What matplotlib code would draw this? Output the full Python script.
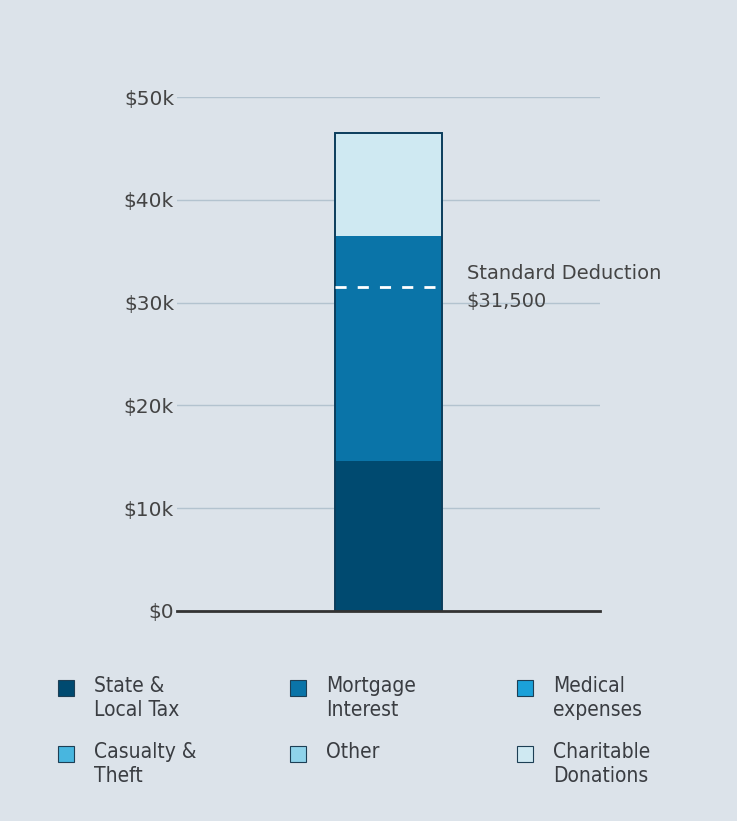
import numpy as np
import matplotlib.pyplot as plt
from matplotlib.patches import Rectangle

# itemized deductions (USD)
categories = ["State &\nLocal Tax", "Mortgage\nInterest", "Medical\nexpenses",
              "Casualty &\nTheft", "Other", "Charitable\nDonations"]
amounts = [14600, 21900, 0, 0, 0, 10000]
colors = ["#004a70", "#0a74a8", "#1ba1d9", "#48b6df", "#8fd3ea", "#cfe9f2"]

standard_deduction = 31500
yticks = [0, 10000, 20000, 30000, 40000, 50000]
ytick_labels = ["$0", "$10k", "$20k", "$30k", "$40k", "$50k"]

bg = "#dce3ea"
text_col = "#444444"

fig = plt.figure(figsize=(7.37, 8.21), dpi=100, facecolor=bg)
ax = fig.add_axes([0.240, 0.2558, 0.574, 0.626])
ax.set_facecolor(bg)

# stacked bar
bottom = 0
for amt, c in zip(amounts, colors):
    ax.bar(0, amt, bottom=bottom, width=0.506, color=c, edgecolor="none", zorder=3)
    bottom += amt
ax.bar(0, sum(amounts), width=0.506, fill=False, edgecolor="#0b3d5c",
       linewidth=1.4, zorder=4)

# standard deduction marker
ax.hlines(standard_deduction, -0.253, 0.253, colors="white", linestyles=(0, (4, 4)),
          linewidth=2, zorder=5)
ax.text(0.37, standard_deduction + 1350, "Standard Deduction",
        fontsize=14, color=text_col, va="center", ha="left", zorder=6)
ax.text(0.37, standard_deduction - 1350, f"${standard_deduction:,}",
        fontsize=14, color=text_col, va="center", ha="left", zorder=6)

ax.set_xlim(-1, 1)
ax.set_ylim(0, 50000)
ax.set_yticks(yticks)
ax.set_yticklabels(ytick_labels, fontsize=14.5, color=text_col)
ax.tick_params(axis="y", length=0, pad=2)
ax.set_xticks([])
ax.grid(axis="y", color="#b3c3cf", linewidth=1, zorder=0)
ax.axhline(0, color="#333333", linewidth=2, zorder=6, clip_on=False)
for s in ax.spines.values():
    s.set_visible(False)

# legend, 3 columns x 2 rows
W, H = 737, 821
col_x = [58, 290, 517]
row_y = [688, 754]
sq = 16
for i, (lab, c) in enumerate(zip(categories, colors)):
    x = col_x[i % 3]
    y = row_y[i // 3]
    fig.add_artist(Rectangle((x / W, 1 - (y + sq / 2) / H), sq / W, sq / H,
                             transform=fig.transFigure, facecolor=c,
                             edgecolor="#1d3f55", linewidth=0.8))
    fig.text((x + 36) / W, 1 - (y - 12) / H, lab, fontsize=15,
             family="DejaVu Sans", stretch="condensed",
             color="#3a3d42", va="top", ha="left", linespacing=1.25)

fig.savefig("out.png", dpi=100, facecolor=bg)
